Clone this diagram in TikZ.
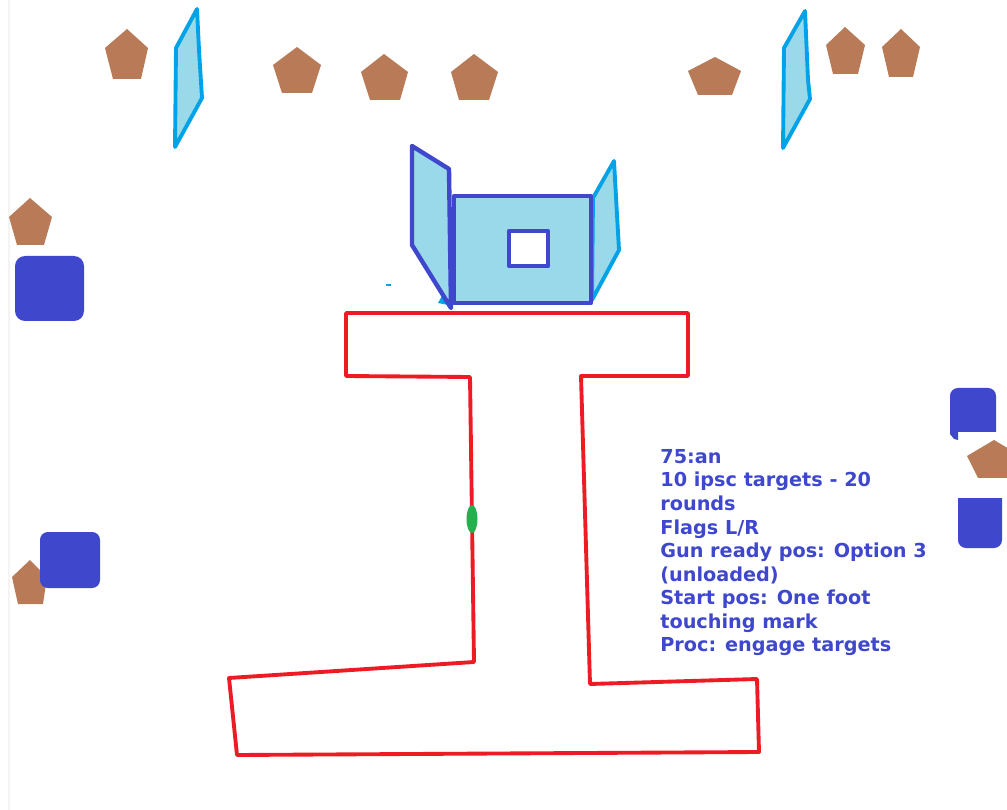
\documentclass[tikz,border=0pt]{standalone}
\usepackage{fontspec}
\setsansfont{DejaVu Sans}
\definecolor{targetbrown}{HTML}{B97A57}
\definecolor{hardblue}{HTML}{3F48CC}
\definecolor{flagblue}{HTML}{00A2E8}
\definecolor{pale}{HTML}{99D9EA}
\definecolor{bayred}{HTML}{ED1C24}
\definecolor{footgreen}{HTML}{22B14C}
\definecolor{margingrey}{HTML}{F4F4F4}
\begin{document}
\begin{tikzpicture}[x=0.02cm,y=-0.02cm,font=\sffamily\bfseries,
panel/.style={draw=flagblue,fill=pale,line width=2.2pt,line join=round},
wall/.style={draw=hardblue,fill=pale,line width=2.5pt,line join=round},
barrier/.style={fill=hardblue,draw=none},
brief/.style={text=hardblue,align=left,anchor=north west,inner sep=0pt,font=\sffamily\bfseries\fontsize{10.95pt}{13.4pt}\selectfont}]
  \useasboundingbox (0,0) rectangle (1007,810);
  \clip (0,0) rectangle (1007,810);
  \fill[white] (0,0) rectangle (1007,810);
  \draw[margingrey,line width=0.6pt] (9,0) -- (9,810);
  \foreach \tx/\ty/\lx/\rx/\sy/\blx/\brx/\by in {127/29/105/148/48/113/141/79,
    297/47/273/321/65/282/312/93, 384/54/361/408/72/370/400/100,
    474/54/451/498/72/459/489/100, 715/57/688/741/71/698/732/95,
    845/27/826/865/45/833/858/74, 901/29/882/920/47/889/913/77,
    30/198/9/52/217/17/44/245, 30/560/12/47/577/18/43/604,
    994/440/967/1021/456/978/1010/478}
    \fill[targetbrown] (\tx,\ty) -- (\rx,\sy) -- (\brx,\by) -- (\blx,\by) -- (\lx,\sy) -- cycle;
  \draw[panel] (197,9) -- (176,48) -- (175,147) -- (202,98) -- (199,50) -- cycle;
  \draw[panel] (805,11) -- (784,48) -- (783,148) -- (810,99) -- (808,80) -- cycle;
  \fill[barrier,rounded corners=5.7pt] (15,256) rectangle (84,321);
  \fill[barrier,rounded corners=4.5pt] (40,532) rectangle (100,588);
  \fill[barrier] (958,432) -- (958,440) -- (954,439) -- (950,434) [rounded corners=4.5pt] -- (950,388) -- (996,388) [sharp corners] -- (996,432) -- cycle;
  \fill[barrier] (1002,498) -- (958,498) [rounded corners=4.5pt] -- (958,548) -- (1002,548) [sharp corners] -- cycle;
  \draw[panel] (593,198) -- (614,161) -- (617,215) -- (619,250) -- (592,300) -- cycle;
  \fill[flagblue] (438,303) -- (443,294) -- (448,305) -- cycle;
  \draw[flagblue,line width=0.8pt] (386,285) -- (391,285);
  \draw[wall] (412,146) -- (449,169) -- (451,308) -- (412,245) -- cycle;
  \draw[wall] (454,196) rectangle (591,303);
  \draw[wall,fill=white] (509,231) rectangle (548,266);
  \draw[bayred,line width=2.2pt,line join=round] (346,313) -- (688,313) -- (688,376) -- (581,376) -- (590,684)
    -- (757,679) -- (759,752) -- (237,755) -- (229,678) -- (474,662) -- (470,377) -- (346,376) -- cycle;
  \fill[footgreen] (472,519) ellipse (5.5 and 14);
  \node[brief] (stage) at (660,449) {75:an\\10 ipsc targets - 20\\rounds\\Flags L/R\\Gun ready pos: Option 3\\(unloaded)\\Start pos: One foot\\touching mark\\Proc: engage targets};
\end{tikzpicture}
\end{document}
